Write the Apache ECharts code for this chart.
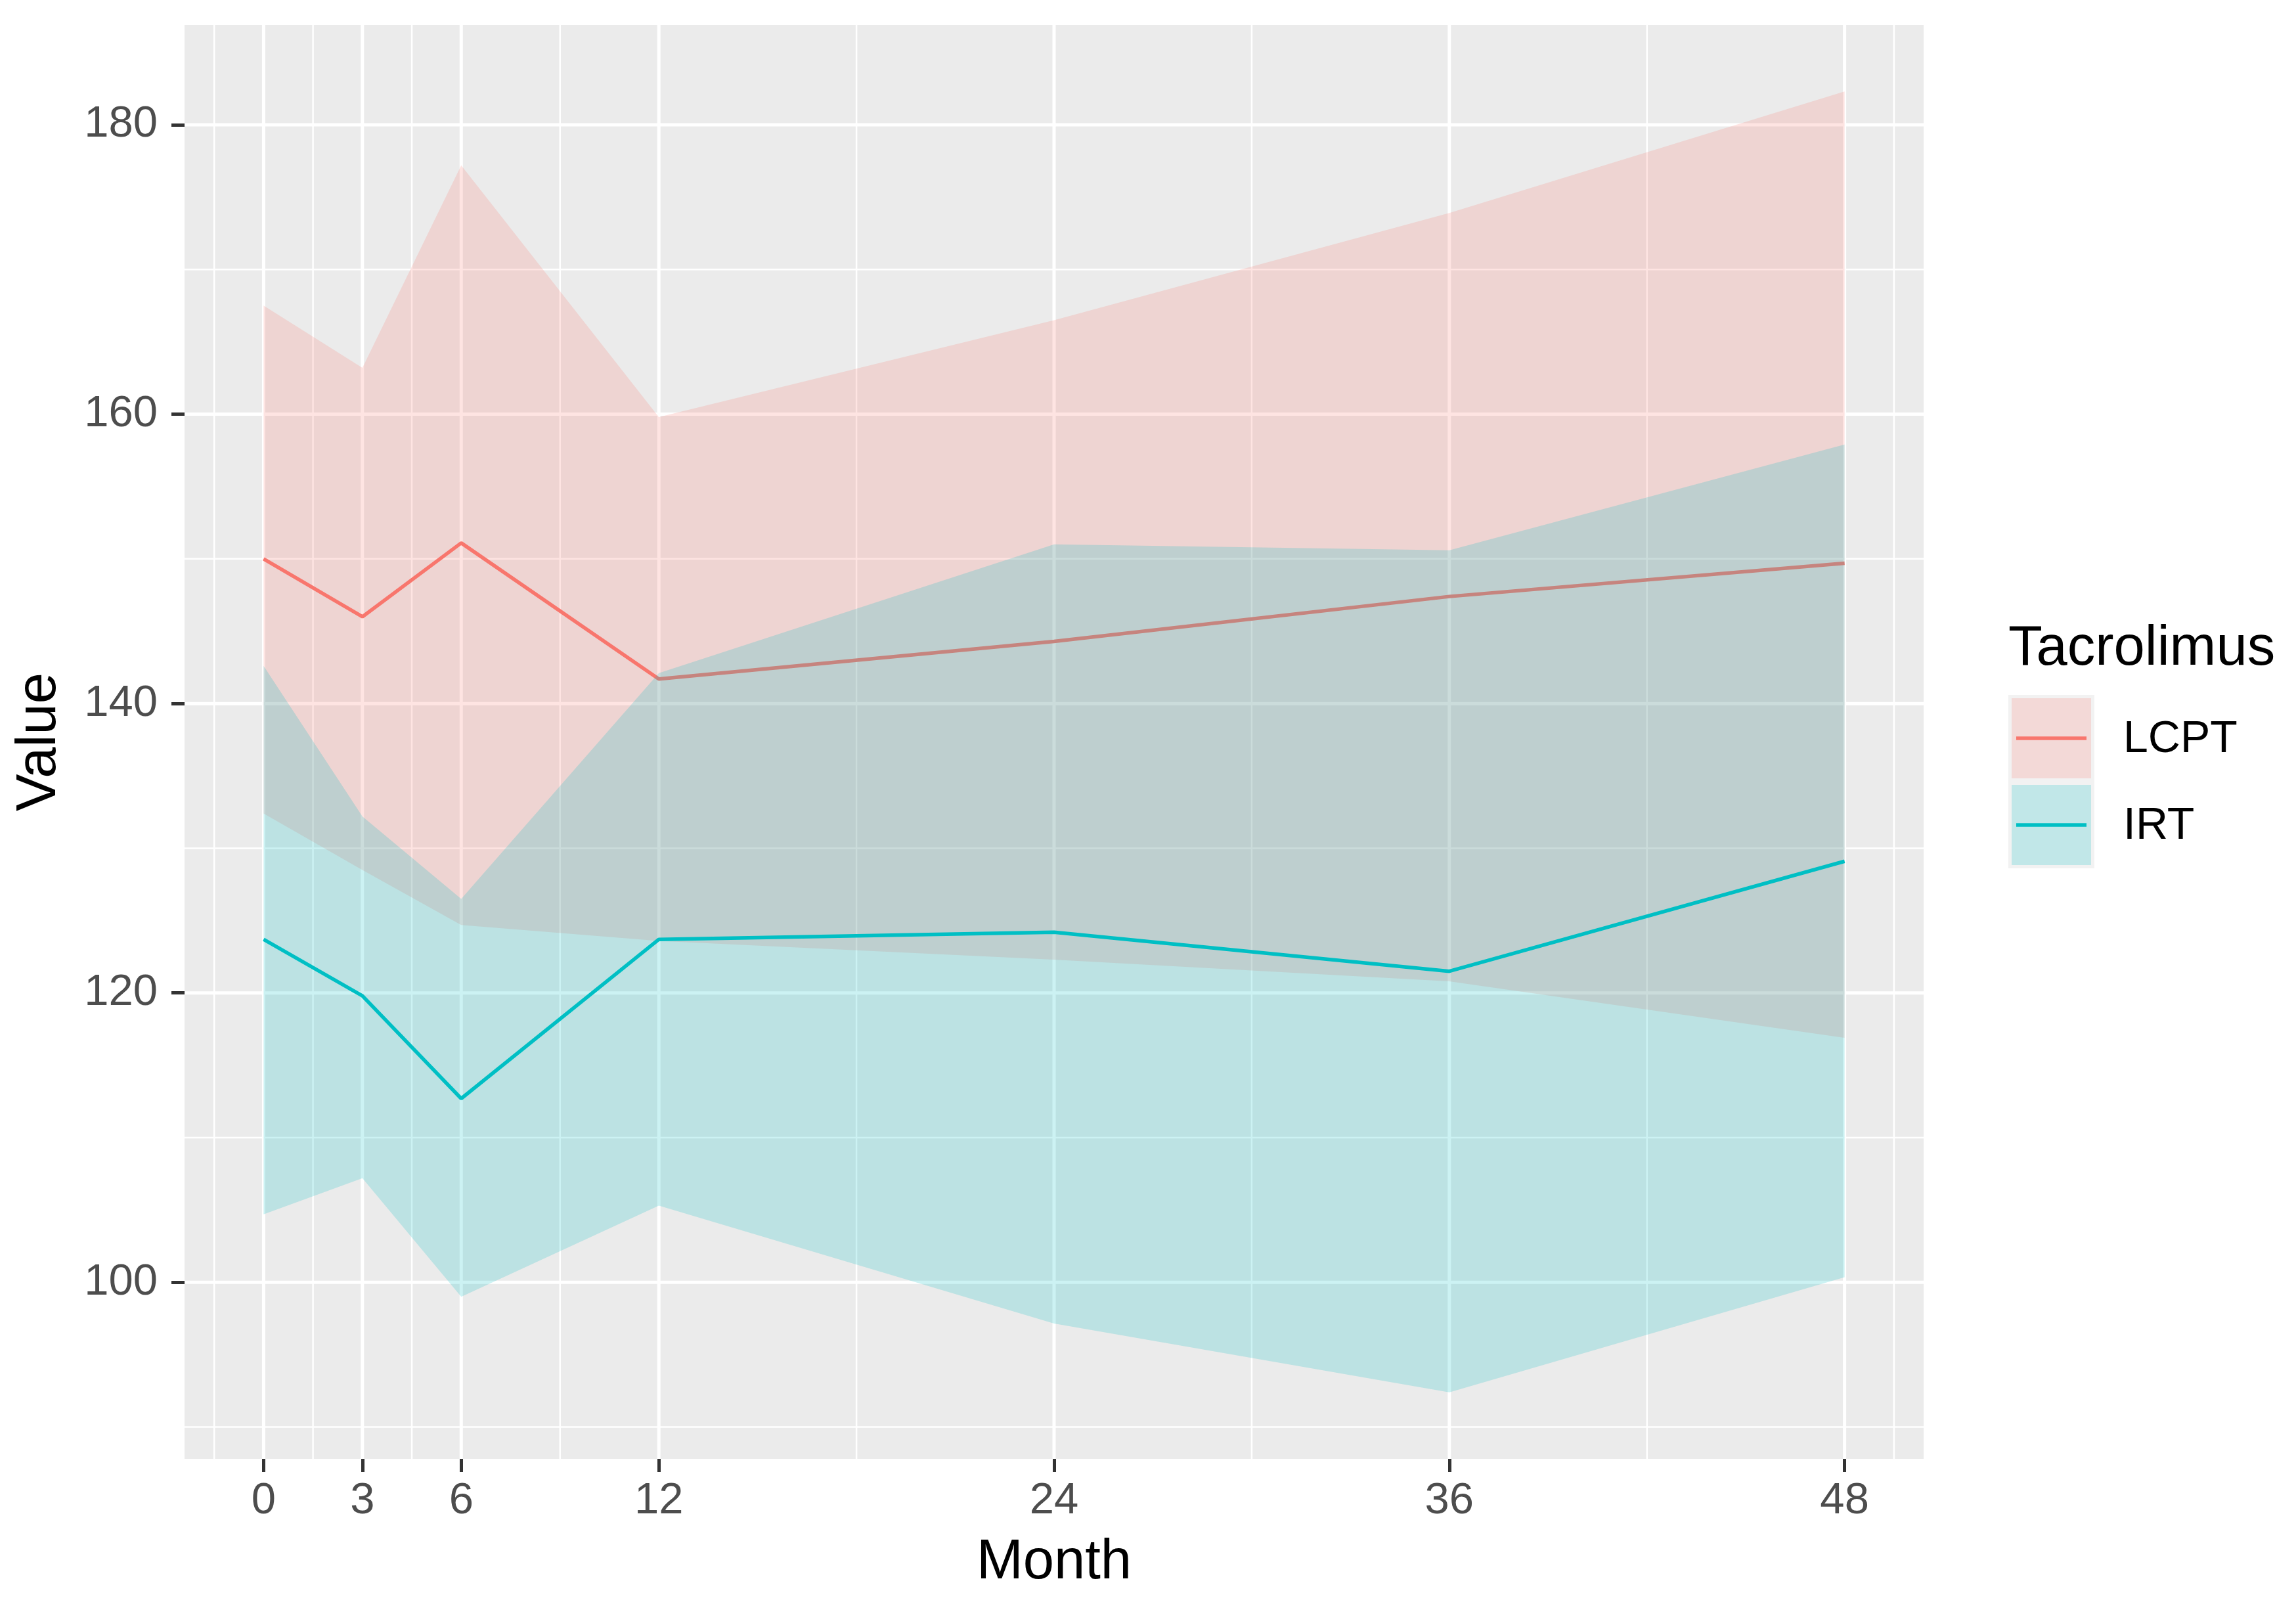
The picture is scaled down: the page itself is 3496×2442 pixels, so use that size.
<!DOCTYPE html>
<html>
<head>
<meta charset="utf-8">
<style>
html,body{margin:0;padding:0;background:#ffffff;}
#chart{width:3496px;height:2442px;}
</style>
<script src="https://cdn.jsdelivr.net/npm/echarts@6/dist/echarts.min.js"></script>
</head>
<body>
<div id="chart"></div>
<script>
// ---- data ----
const months = [0, 3, 6, 12, 24, 36, 48];
const lcptMean  = [150.0, 146.0, 151.1, 141.7, 144.3, 147.4, 149.7];
const lcptUpper = [167.5, 163.2, 177.2, 159.8, 166.5, 173.9, 182.3];
const lcptLower = [132.4, 128.5, 124.7, 123.6, 122.3, 120.8, 116.9];
const irtMean   = [123.7, 119.8, 112.7, 123.7, 124.2, 121.5, 129.1];
const irtUpper  = [142.6, 132.2, 126.5, 142.1, 151.0, 150.6, 157.9];
const irtLower  = [104.7, 107.2, 99.0, 105.3, 97.15, 92.4, 100.35];

const xTicks = [0, 3, 6, 12, 24, 36, 48];
const xMinor = [-1.5, 1.5, 4.5, 9, 18, 30, 42, 49.5];
const yTicks = [100, 120, 140, 160, 180];
const yMinor = [90, 110, 130, 150, 170];

const groups = ['LCPT', 'IRT'];
const colors = ['#F8766D', '#00BFC4'];
const fills = ['rgba(248,118,109,0.2)', 'rgba(0,191,196,0.2)'];

// axis extents (ggplot 5% expansion)
const X_MIN = -2.4, X_MAX = 50.4;
const Y_MIN = 87.8, Y_MAX = 186.9;

const FONT = 'Liberation Sans, Arial, sans-serif';

const chart = echarts.init(document.getElementById('chart'), null, {renderer: 'canvas'});

function vLineSeries(values, width) {
  return {
    type: 'custom', z: 1, silent: true, animation: false,
    data: values.map(v => [v, Y_MIN]),
    encode: {x: 0, y: 1},
    renderItem: function (params, api) {
      const cs = params.coordSys;
      const x = api.coord([api.value(0), Y_MIN])[0];
      return {type: 'line', shape: {x1: x, y1: cs.y, x2: x, y2: cs.y + cs.height},
              style: {stroke: '#FFFFFF', lineWidth: width}};
    }
  };
}
function hLineSeries(values, width) {
  return {
    type: 'custom', z: 1, silent: true, animation: false,
    data: values.map(v => [X_MIN, v]),
    encode: {x: 0, y: 1},
    renderItem: function (params, api) {
      const cs = params.coordSys;
      const y = api.coord([X_MIN, api.value(1)])[1];
      return {type: 'line', shape: {x1: cs.x, y1: y, x2: cs.x + cs.width, y2: y},
              style: {stroke: '#FFFFFF', lineWidth: width}};
    }
  };
}
function ribbonSeries(lo, hi, fill, z) {
  return {
    type: 'custom', z: z, silent: true, animation: false,
    data: months.map((m, i) => [m, lo[i], hi[i]]),
    encode: {x: 0, y: [1, 2]},
    renderItem: function (params, api) {
      if (params.dataIndex !== 0) return null;
      const pts = [];
      for (let i = 0; i < months.length; i++) pts.push(api.coord([months[i], hi[i]]));
      for (let i = months.length - 1; i >= 0; i--) pts.push(api.coord([months[i], lo[i]]));
      return {type: 'polygon', shape: {points: pts}, style: {fill: fill, lineWidth: 0}};
    }
  };
}
function lineSeries(name, vals, color, z) {
  return {
    name: name, type: 'line', z: z, silent: true, animation: false,
    symbol: 'none', showSymbol: false,
    data: months.map((m, i) => [m, vals[i]]),
    lineStyle: {color: color, width: 5.5}
  };
}

// legend (drawn as graphics)
const LX = 3058, LY = 1058, KW = 131, KH = 132;
const legendGraphics = [
  {type: 'text', left: LX, top: 946, style: {text: 'Tacrolimus', font: '85px ' + FONT, fill: '#000000'}}
];
groups.forEach((g, i) => {
  const ky = LY + i * KH;
  legendGraphics.push({type: 'rect', shape: {x: LX, y: ky, width: KW, height: KH}, style: {fill: '#F2F2F2'}});
  legendGraphics.push({type: 'rect', shape: {x: LX + 5, y: ky + 5, width: KW - 10, height: KH - 10}, style: {fill: fills[i]}});
  legendGraphics.push({type: 'line', shape: {x1: LX + 12, y1: ky + KH / 2, x2: LX + KW - 12, y2: ky + KH / 2},
                       style: {stroke: colors[i], lineWidth: 5.5}});
  legendGraphics.push({type: 'text', x: 3233, y: ky + KH / 2 + 2,
                       style: {text: g, font: '68px ' + FONT, fill: '#000000', textAlign: 'left', textVerticalAlign: 'middle'}});
});

const option = {
  animation: false,
  backgroundColor: '#FFFFFF',
  grid: {left: 281, right: 567, top: 38, bottom: 221, show: true, backgroundColor: '#EBEBEB', borderWidth: 0, containLabel: false},
  xAxis: {
    type: 'value', min: X_MIN, max: X_MAX,
    name: 'Month', nameLocation: 'middle', nameGap: 159,
    nameTextStyle: {fontFamily: FONT, fontSize: 85, color: '#000000', verticalAlign: 'middle'},
    axisLine: {show: false, onZero: false},
    axisTick: {show: true, length: 20, customValues: xTicks, lineStyle: {color: '#333333', width: 5}},
    axisLabel: {show: true, customValues: xTicks, margin: 65, verticalAlign: 'middle',
                fontFamily: FONT, fontSize: 67, color: '#4D4D4D'},
    splitLine: {show: false}
  },
  yAxis: {
    type: 'value', min: Y_MIN, max: Y_MAX,
    name: 'Value', nameLocation: 'middle', nameGap: 220, nameRotate: 90,
    nameTextStyle: {fontFamily: FONT, fontSize: 85, color: '#000000', verticalAlign: 'middle'},
    axisLine: {show: false, onZero: false},
    axisTick: {show: true, length: 20, customValues: yTicks, lineStyle: {color: '#333333', width: 5}},
    axisLabel: {show: true, customValues: yTicks, margin: 41,
                fontFamily: FONT, fontSize: 67, color: '#4D4D4D'},
    splitLine: {show: false}
  },
  series: [
    vLineSeries(xMinor, 2.5),
    hLineSeries(yMinor, 2.5),
    vLineSeries(xTicks, 5),
    hLineSeries(yTicks, 5),
    ribbonSeries(lcptLower, lcptUpper, fills[0], 2),
    lineSeries(groups[0], lcptMean, colors[0], 3),
    ribbonSeries(irtLower, irtUpper, fills[1], 4),
    lineSeries(groups[1], irtMean, colors[1], 5)
  ],
  graphic: legendGraphics
};
chart.setOption(option);
</script>
</body>
</html>
